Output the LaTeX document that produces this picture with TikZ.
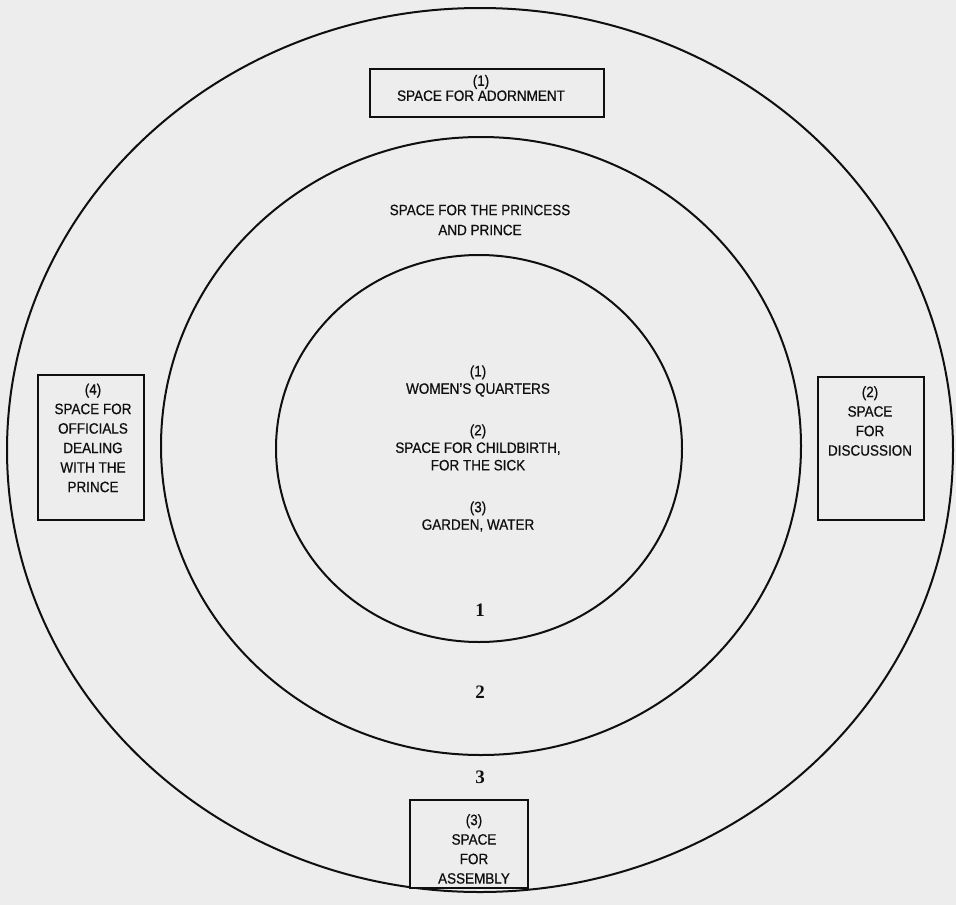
\documentclass[tikz,border=0pt]{standalone}
\usepackage{fontspec}
\setmainfont[FakeStretch=0.9,FakeBold=0.6]{Liberation Sans}
\newfontfamily\numfont{Liberation Serif}
\usetikzlibrary{shapes.geometric}
\definecolor{bg}{RGB}{237,237,237}
\definecolor{ink}{RGB}{15,15,15}
\begin{document}
\begin{tikzpicture}[x=1pt,y=-1pt,
  ring/.style={draw=ink, ellipse, line width=2pt, inner sep=0pt},
  boxed/.style={draw=ink, rectangle, line width=2pt, inner sep=0pt},
  lbl/.style={text=ink, font=\fontsize{15}{19.5}\selectfont, align=center, inner sep=0pt},
  ilbl/.style={lbl, font=\fontsize{15}{17.5}\selectfont},
  num/.style={text=ink, font=\numfont\bfseries\fontsize{19}{19}\selectfont, inner sep=0pt}]
\fill[bg] (0,0) rectangle (956,905);
\useasboundingbox (0,0) rectangle (956,905);
% rings
\node[ring, minimum width=946pt, minimum height=884pt] (outer) at (480,450) {};
\node[ring, minimum width=640pt, minimum height=618pt] (middle) at (481,446) {};
\node[ring, minimum width=406pt, minimum height=387pt] (inner) at (479,448.5) {};
% boxes
\node[boxed, fill=bg, minimum width=234pt, minimum height=48pt] (box1) at (487,93) {};
\node[boxed, fill=bg, minimum width=106pt, minimum height=145pt] (box4) at (91,447.5) {};
\node[boxed, fill=bg, minimum width=106pt, minimum height=143pt] (box2) at (871,448.5) {};
\node[boxed, fill=bg, minimum width=118pt, minimum height=88pt] (box3) at (469,844) {};
% box texts
\node[lbl, font=\fontsize{15}{15}\selectfont] (t1) at (481,88) {(1)\\SPACE FOR ADORNMENT};
\node[lbl] (t4) at (93,438) {(4)\\SPACE FOR\\OFFICIALS\\DEALING\\WITH THE\\PRINCE};
\node[lbl] (t2) at (870,421) {(2)\\SPACE\\FOR\\DISCUSSION};
\node[lbl] (t3) at (474,849) {(3)\\SPACE\\FOR\\ASSEMBLY};
% ring texts
\node[ilbl, font=\fontsize{15}{20}\selectfont] (tp) at (480,220) {SPACE FOR THE PRINCESS\\AND PRINCE};
\node[ilbl] (w1) at (478,381) {(1)\\WOMEN'S QUARTERS};
\node[ilbl] (w2) at (478,447.5) {(2)\\SPACE FOR CHILDBIRTH,\\FOR THE SICK};
\node[ilbl] (w3) at (478,516.5) {(3)\\GARDEN, WATER};
% ring numbers
\node[num] (n1) at (480,610) {1};
\node[num] (n2) at (480,692) {2};
\node[num] (n3) at (480,777) {3};
\end{tikzpicture}
\end{document}
